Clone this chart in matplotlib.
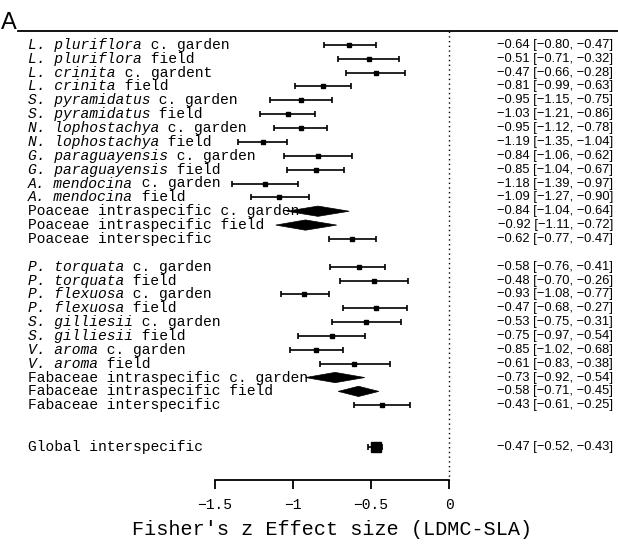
import numpy as np
import matplotlib
matplotlib.use("Agg")
import matplotlib.pyplot as plt
from matplotlib.patches import Polygon
from matplotlib.transforms import blended_transform_factory

# ---------------- data ----------------
italic_part = [
    "L. pluriflora", "L. pluriflora", "L. crinita", "L. crinita",
    "S. pyramidatus", "S. pyramidatus", "N. lophostachya", "N. lophostachya",
    "G. paraguayensis", "G. paraguayensis", "A. mendocina", "A. mendocina",
    "", "", "",
    "P. torquata", "P. torquata", "P. flexuosa", "P. flexuosa",
    "S. gilliesii", "S. gilliesii", "V. aroma", "V. aroma",
    "", "", "",
    "",
]
plain_part = [
    " c. garden", " field", " c. gardent", " field",
    " c. garden", " field", " c. garden", " field",
    " c. garden", " field", " c. garden", " field",
    "Poaceae intraspecific c. garden", "Poaceae intraspecific field", "Poaceae interspecific",
    " c. garden", " field", " c. garden", " field",
    " c. garden", " field", " c. garden", " field",
    "Fabaceae intraspecific c. garden", "Fabaceae intraspecific field", "Fabaceae interspecific",
    "Global interspecific",
]
estimate = [
    -0.64, -0.51, -0.47, -0.81, -0.95, -1.03, -0.95, -1.19, -0.84, -0.85, -1.18, -1.09,
    -0.84, -0.92, -0.62,
    -0.58, -0.48, -0.93, -0.47, -0.53, -0.75, -0.85, -0.61,
    -0.73, -0.58, -0.43,
    -0.47,
]
ci_low = [
    -0.80, -0.71, -0.66, -0.99, -1.15, -1.21, -1.12, -1.35, -1.06, -1.04, -1.39, -1.27,
    -1.04, -1.11, -0.77,
    -0.76, -0.70, -1.08, -0.68, -0.75, -0.97, -1.02, -0.83,
    -0.92, -0.71, -0.61,
    -0.52,
]
ci_high = [
    -0.47, -0.32, -0.28, -0.63, -0.75, -0.86, -0.78, -1.04, -0.62, -0.67, -0.97, -0.90,
    -0.64, -0.72, -0.47,
    -0.41, -0.26, -0.77, -0.27, -0.31, -0.54, -0.68, -0.38,
    -0.54, -0.45, -0.25,
    -0.43,
]
row_kind = (["point"] * 12 + ["diamond", "diamond", "point"]
            + ["point"] * 8 + ["diamond", "diamond", "point"] + ["point"])
group_of_row = [0] * 15 + [1] * 11 + [2]
gap_before_group = [0, 1, 2]

x_ticks = [-1.5, -1.0, -0.5, 0.0]
x_tick_labels = ["\u22121.5", "\u22121", "\u22120.5", "0"]
x_label = "Fisher's z Effect size (LDMC-SLA)"
panel_letter = "A"

# ---------------- layout ----------------
W, H = 618, 545
fig = plt.figure(figsize=(W / 100, H / 100), dpi=100)
ax = fig.add_axes([0, 0, 1, 1])

px_per_unit = 156.0
x_zero_px = 449.0
row_px = 13.86
first_row_px = 44.9

ax.set_xlim(-x_zero_px / px_per_unit, (W - x_zero_px) / px_per_unit)
ax.set_ylim((H - first_row_px) / row_px, -first_row_px / row_px)

# row positions (0 = top row), with blank rows between groups
est = np.array(estimate)
lo = np.array(ci_low)
hi = np.array(ci_high)
pos = []
p = 0
prev_g = None
for g in group_of_row:
    if g != prev_g:
        p += gap_before_group[g]
        prev_g = g
    pos.append(p)
    p += 1
pos = np.array(pos, dtype=float)

top_line_p = -1.0
axis_p = (479.5 - first_row_px) / row_px
xlabel_p = (529 - first_row_px) / row_px

mono = "Liberation Mono"
sans = "Liberation Sans"
lab_fs = 10.5
ann_fs = 9.3

# top line
ax.axhline(top_line_p, xmin=18 / W, xmax=1.0, color="black", lw=1.3, zorder=2)
# reference line at 0
ax.vlines(0, top_line_p, axis_p, colors="black", lw=1.0,
          linestyles=(0, (1, 2.4)), zorder=1)

# marker sizes from inverse-variance weights (metafor style)
se = (hi - lo) / (2 * 1.96)
w = 1 / se ** 2
is_pt = np.array([k == "point" for k in row_kind])
wmin, wmax = w[is_pt].min(), w[is_pt].max()
psize = 0.5 + (w - wmin) / (wmax - wmin)

for i in range(len(est)):
    if row_kind[i] == "point":
        ax.errorbar(est[i], pos[i], xerr=[[est[i] - lo[i]], [hi[i] - est[i]]],
                    fmt="none", ecolor="black", elinewidth=1.2, capsize=2.4,
                    capthick=1.2, zorder=3)
        ax.plot(est[i], pos[i], marker="s", color="black",
                markersize=6.2 * psize[i] / 1.389, lw=0, zorder=4)
    else:
        h = 0.37
        poly = Polygon([[lo[i], pos[i]], [est[i], pos[i] - h],
                        [hi[i], pos[i]], [est[i], pos[i] + h]],
                       closed=True, facecolor="black", edgecolor="black",
                       lw=0.5, zorder=5)
        ax.add_patch(poly)

# labels
tr_lab = blended_transform_factory(ax.transAxes, ax.transData)
lab_x = 28 / W
ann_x = 613 / W
for i in range(len(est)):
    if italic_part[i]:
        t1 = ax.text(lab_x, pos[i], italic_part[i], transform=tr_lab,
                     family=mono, style="italic", fontsize=lab_fs,
                     ha="left", va="center", zorder=2)
        ax.annotate(plain_part[i], xy=(1, 0.5), xycoords=t1,
                    family=mono, fontsize=lab_fs, ha="left", va="center",
                    zorder=2)
    else:
        ax.text(lab_x, pos[i], plain_part[i], transform=tr_lab,
                family=mono, fontsize=lab_fs, ha="left", va="center", zorder=2)
    s = "{:.2f} [{:.2f}, {:.2f}]".format(est[i], lo[i], hi[i]).replace("-", "\u2212")
    ax.text(ann_x, pos[i], s, transform=tr_lab, family=sans, fontsize=ann_fs,
            ha="right", va="center")

# x axis
for side in ["top", "left", "right"]:
    ax.spines[side].set_visible(False)
ax.spines["bottom"].set_position(("data", axis_p))
ax.spines["bottom"].set_bounds(x_ticks[0], x_ticks[-1])
ax.spines["bottom"].set_linewidth(1.3)
ax.set_xticks(x_ticks)
ax.set_xticklabels(x_tick_labels, family=mono, fontsize=10.5)
ax.tick_params(axis="x", direction="out", length=6.5, width=1.3, pad=7)
ax.set_yticks([])

ax.text(np.mean(x_ticks), xlabel_p, x_label, family=mono, fontsize=14.5,
        ha="center", va="center")

fig.text(1 / W, 1 - 29 / H, panel_letter, family=sans, fontsize=17,
         ha="left", va="baseline")

fig.savefig("out.png", dpi=100)
